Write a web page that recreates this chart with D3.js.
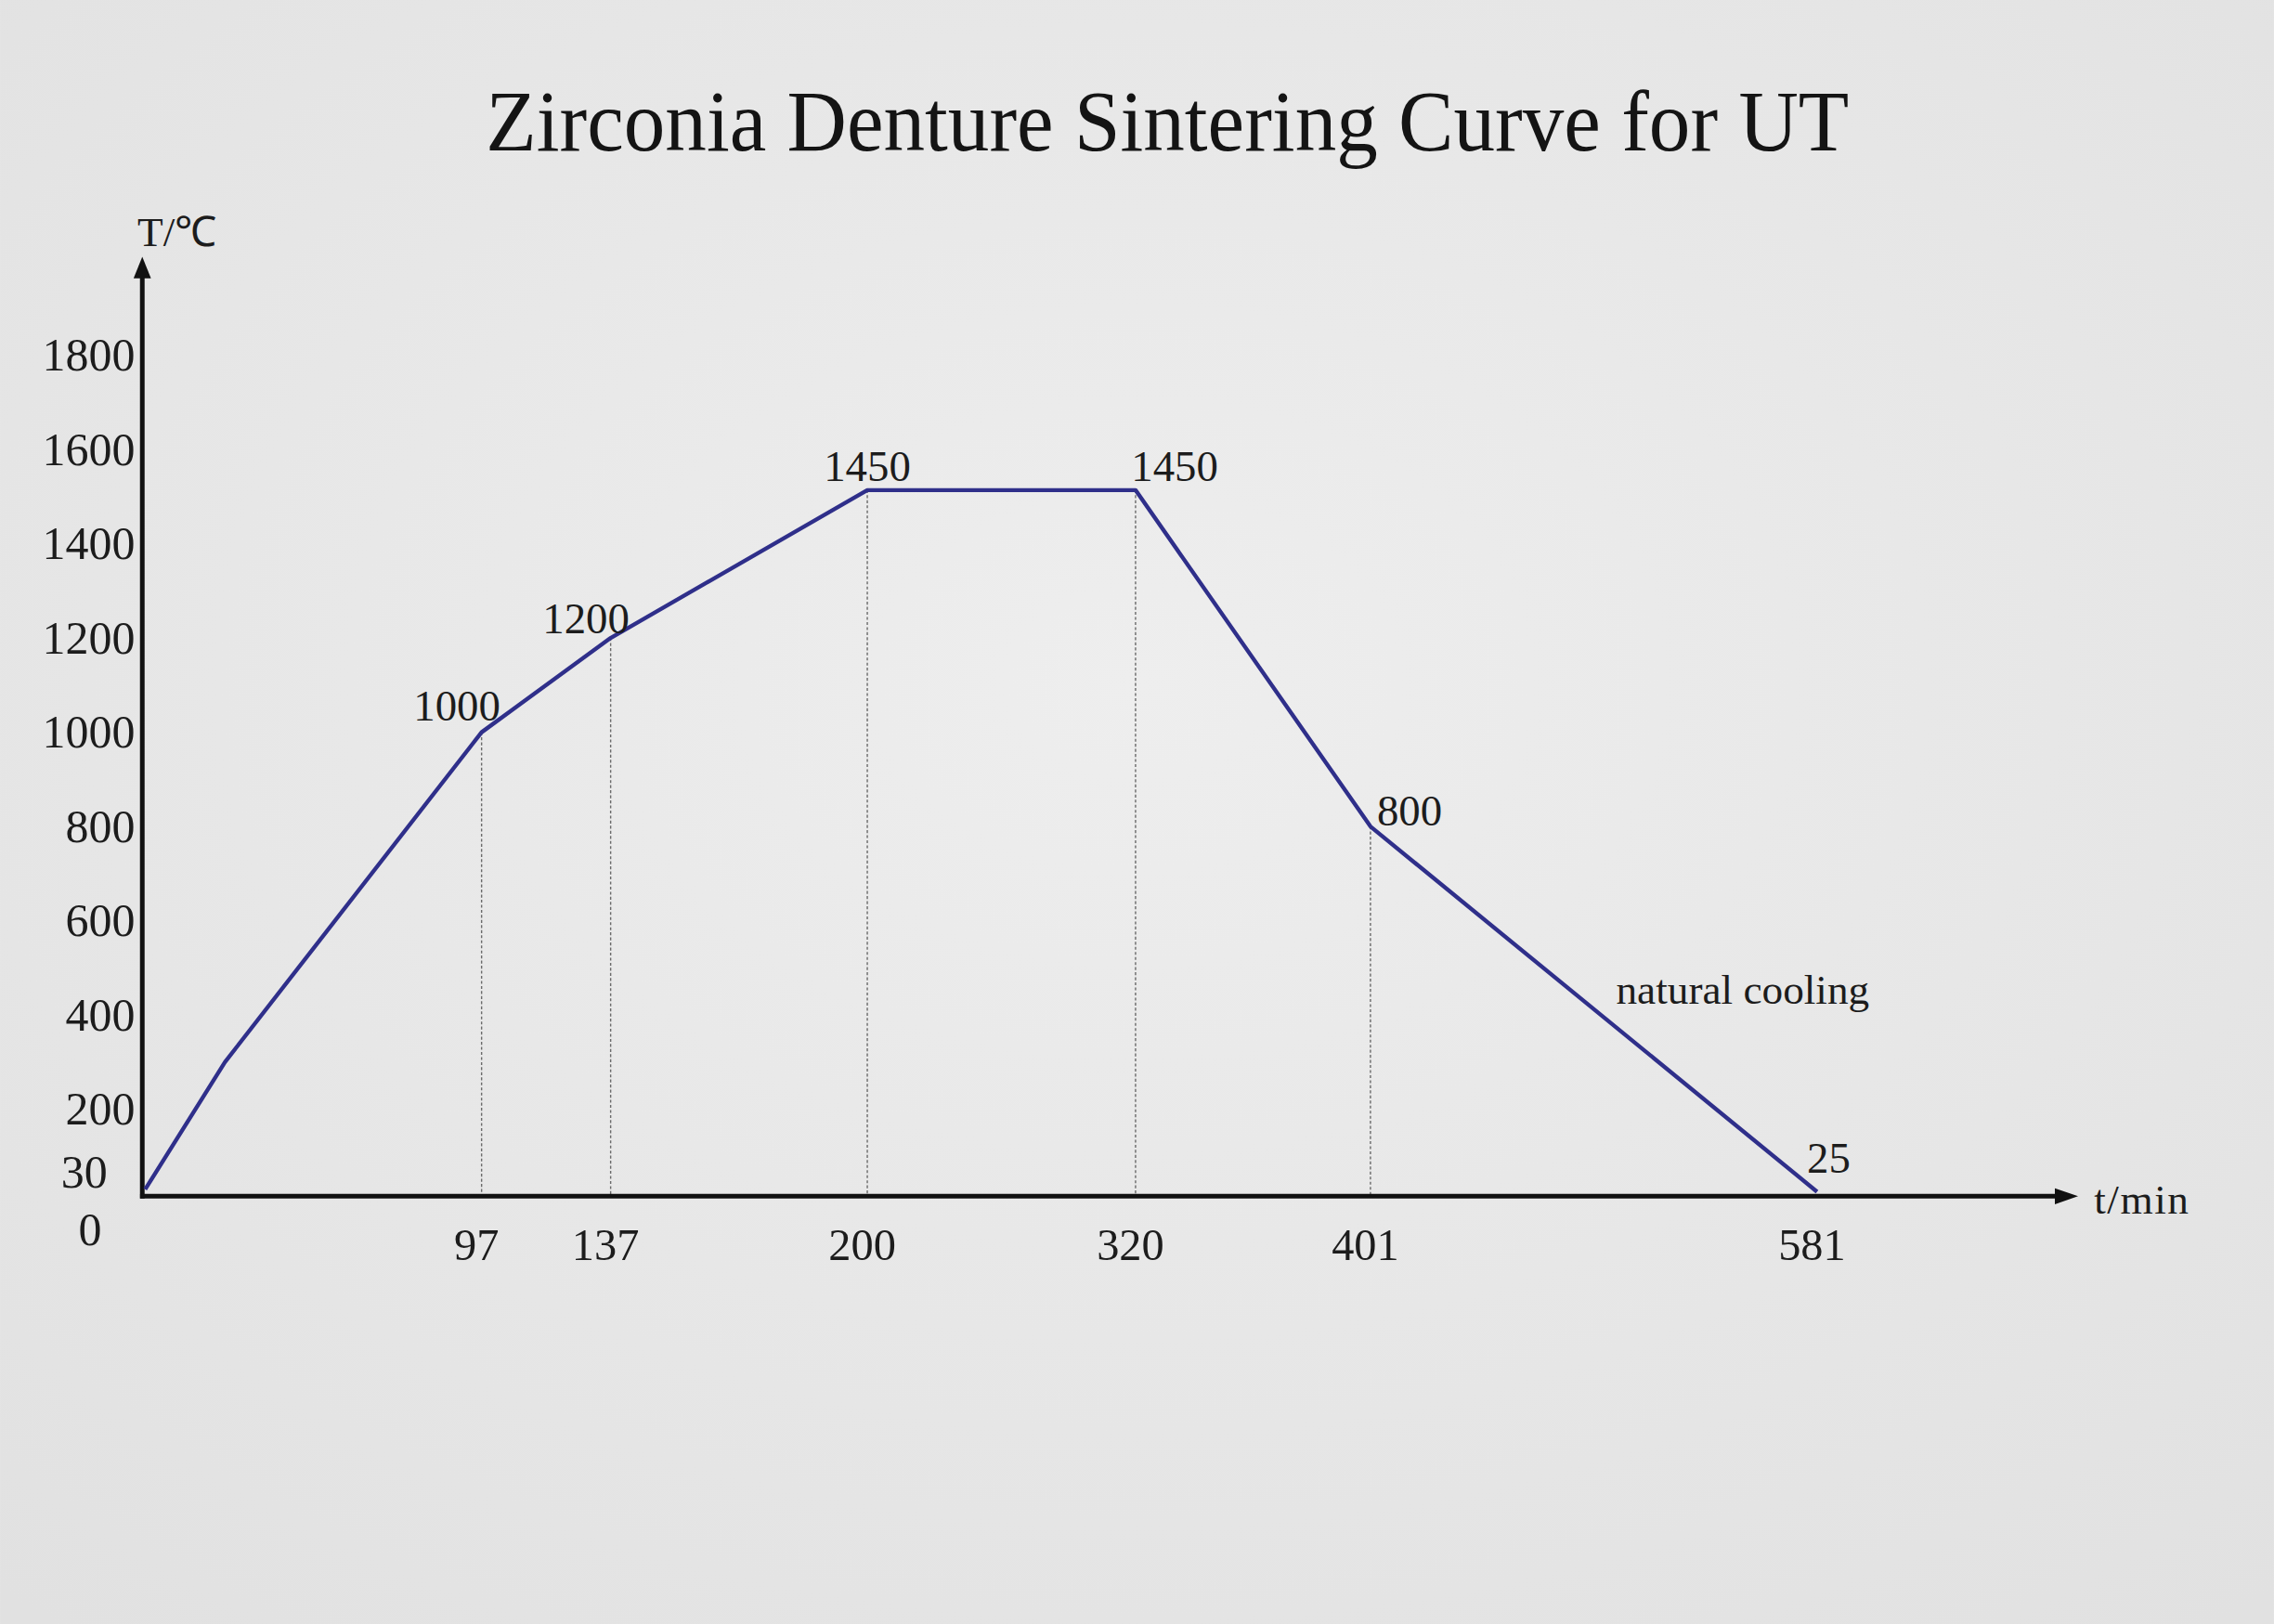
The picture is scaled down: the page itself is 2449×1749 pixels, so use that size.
<!DOCTYPE html>
<html>
<head>
<meta charset="utf-8">
<script src="https://cdn.jsdelivr.net/npm/d3@7"></script>
<style>
  html, body { margin: 0; padding: 0; background: #e8e8e8; overflow: hidden; }
  text { font-family: "Liberation Serif", "Times New Roman", serif; fill: #1c1c1c; }
</style>
</head>
<body>
<svg class="svg1" width="2449" height="1749" viewBox="0 0 1568 1120"></svg>
<script>
// data
var title = "Zirconia Denture Sintering Curve for UT";
var minutes = [0, 23, 97, 137, 200, 320, 401, 581];
var temps = [30, 300, 1000, 1200, 1450, 1450, 800, 25];
var xTicks = [97, 137, 200, 320, 401, 581];
var yTicks = [200, 400, 600, 800, 1000, 1200, 1400, 1600, 1800];
var yLowTicks = [30, 0];
var noteText = "natural cooling";

var svg = d3.select(".svg1");

// background (photo of a printed sheet)
var defs = svg.append("defs");
var grad = defs.append("radialGradient").attr("id", "paper")
    .attr("cx", "50%").attr("cy", "42%").attr("r", "75%");
grad.append("stop").attr("offset", "0%").attr("stop-color", "#eeeeee");
grad.append("stop").attr("offset", "100%").attr("stop-color", "#e1e1e1");
svg.append("rect").attr("width", 1568).attr("height", 1120).attr("fill", "url(#paper)");

// schematic axis: not to scale, so piecewise scales through the labelled points
var x = d3.scaleLinear()
    .domain([0, 97, 137, 200, 320, 401, 581])
    .range([100, 332, 421, 598, 783, 945, 1253]);
var yTick = d3.scaleLinear().domain([0, 1800]).range([830, 245]);
var y = d3.scaleLinear().domain([0, 1200, 1450, 1800]).range([830, 440, 338, 245]);

var pts = minutes.map(function(m, i) { return {t: m, v: temps[i]}; });

var axisX0 = 98, axisY0 = 825;

svg.append("text")
    .attr("x", 805).attr("y", 104)
    .attr("text-anchor", "middle")
    .attr("textLength", 940).attr("lengthAdjust", "spacingAndGlyphs")
    .style("font-size", "60px")
    .style("fill", "#141414")
    .text(title);

// guide lines from the points down to the time axis
svg.append("g").selectAll("line")
    .data(pts.filter(function(d, i) { return i >= 2 && i <= 6; }))
    .enter().append("line")
    .attr("x1", function(d) { return x(d.t); })
    .attr("x2", function(d) { return x(d.t); })
    .attr("y1", function(d) { return y(d.v); })
    .attr("y2", axisY0)
    .attr("stroke", "#6a6a6a")
    .attr("stroke-width", 0.9)
    .attr("stroke-dasharray", "2,1.5");

// axes
var axes = svg.append("g").attr("stroke", "#111").attr("stroke-width", 3.2).attr("fill", "none");
axes.append("line").attr("x1", axisX0).attr("y1", axisY0 + 1.5).attr("x2", axisX0).attr("y2", 190);
axes.append("line").attr("x1", axisX0 - 1.5).attr("y1", axisY0).attr("x2", 1420).attr("y2", axisY0);
svg.append("path").attr("d", "M" + axisX0 + ",177 l-6,15 l12,0 z").attr("fill", "#111");
svg.append("path").attr("d", "M1433," + axisY0 + " l-16,-5.5 l0,11 z").attr("fill", "#111");

// tick labels
var gy = svg.append("g")
    .attr("transform", "translate(" + (axisX0 - 5) + ",0)")
    .call(d3.axisLeft(yTick).tickValues(yTicks).tickFormat(d3.format("d")).tickSize(0).tickPadding(0));
gy.select(".domain").remove();
gy.selectAll("text").style("font-size", "32px").style("font-family", "Liberation Serif").attr("fill", "#1c1c1c");

svg.append("g").selectAll("text")
    .data(yLowTicks)
    .enter().append("text")
    .attr("x", function(d) { return d === 0 ? 62 : 58; })
    .attr("y", function(d) { return d === 0 ? yTick(d) + 29 : yTick(d) - 1; })
    .attr("text-anchor", "middle")
    .style("font-size", "32px")
    .text(function(d) { return d; });

var gx = svg.append("g")
    .attr("transform", "translate(-4," + (axisY0 + 22) + ")")
    .call(d3.axisBottom(x).tickValues(xTicks).tickFormat(d3.format("d")).tickSize(0).tickPadding(0));
gx.select(".domain").remove();
gx.selectAll("text").style("font-size", "31px").style("font-family", "Liberation Serif").attr("fill", "#1c1c1c");

svg.append("text").attr("x", 122).attr("y", 170).attr("text-anchor", "middle")
    .style("font-size", "29px").text("T/℃");
svg.append("text").attr("x", 1444).attr("y", 837)
    .style("font-size", "29px").style("letter-spacing", "1px").text("t/min");

// the firing curve
var line = d3.line()
    .x(function(d) { return x(d.t); })
    .y(function(d) { return y(d.v); });

svg.append("path")
    .datum(pts)
    .attr("d", line)
    .attr("fill", "none")
    .attr("stroke", "#2f2f8a")
    .attr("stroke-width", 2.8)
    .attr("stroke-linejoin", "round");

// point labels (offsets from the point)
var labelOffset = [null, null, [-17, -8], [-17, -3], [0, -6], [27, -6], [27, -1], [8, -13]];
svg.append("g").selectAll("text")
    .data(pts.filter(function(d, i) { return labelOffset[i]; }))
    .enter().append("text")
    .attr("x", function(d) { return x(d.t) + labelOffset[pts.indexOf(d)][0]; })
    .attr("y", function(d) { return y(d.v) + labelOffset[pts.indexOf(d)][1]; })
    .attr("text-anchor", "middle")
    .style("font-size", "30px")
    .text(function(d) { return d.v; });

svg.append("text")
    .attr("x", x(500)).attr("y", 692)
    .style("font-size", "29px")
    .text(noteText);
</script>
</body>
</html>
